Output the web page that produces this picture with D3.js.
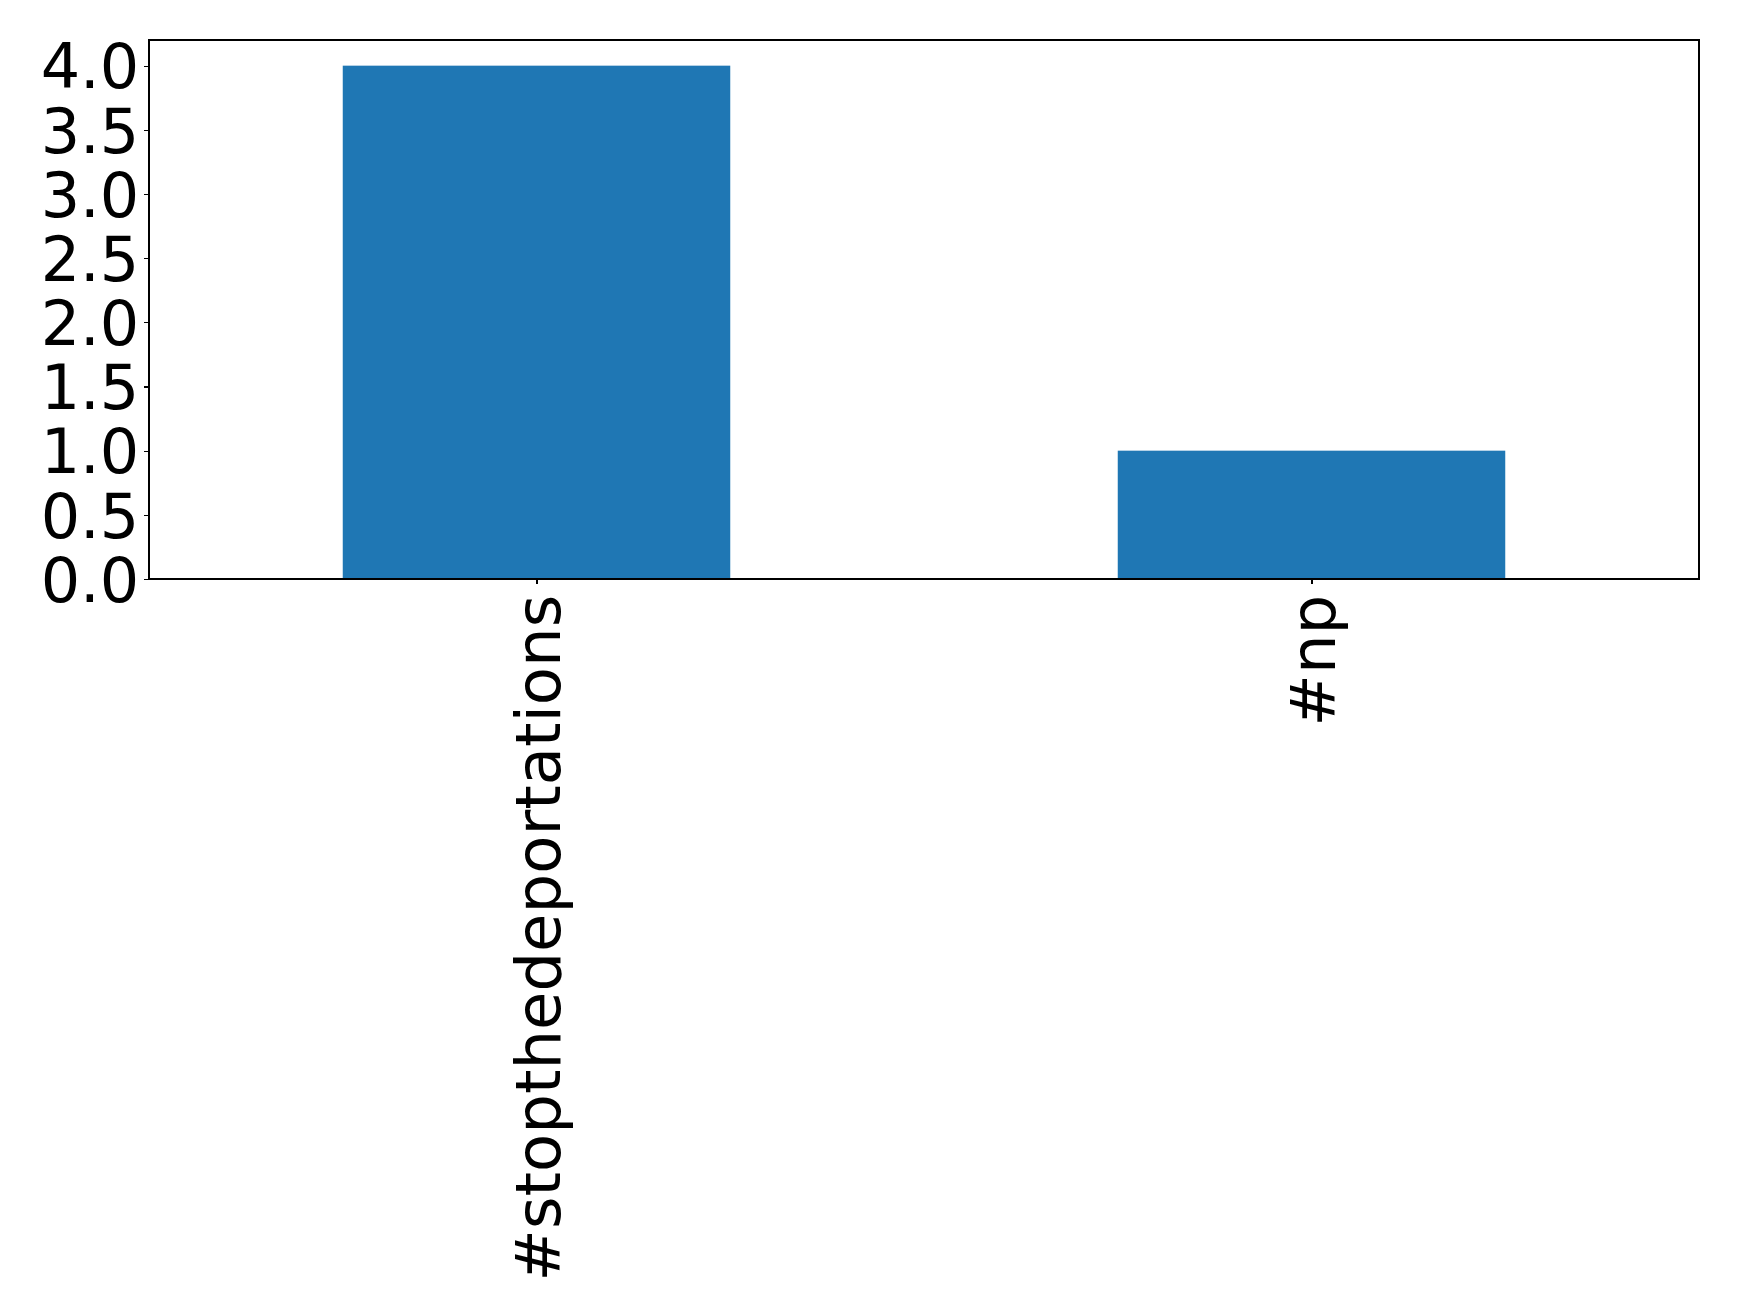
<!DOCTYPE html>
<html><head><meta charset="utf-8">
<script src="https://cdn.jsdelivr.net/npm/d3@7"></script>
<style>body{margin:0;background:#fff}svg{display:block}</style>
</head><body>
<script>
const categories = ["#stopthedeportations", "#np"];
const values = [4, 1];
const yTicks = [0, 0.5, 1.0, 1.5, 2.0, 2.5, 3.0, 3.5, 4.0];

const W = 1739, H = 1315;
const m = {left: 149, top: 40, right: 1699, bottom: 579};
const svg = d3.select("body").append("svg").attr("width", W).attr("height", H);

const x = d3.scaleLinear().domain([-0.5, categories.length - 0.5]).range([m.left, m.right]);
const y = d3.scaleLinear().domain([0, 4.2]).range([m.bottom, m.top]);
const barW = 0.5;

svg.append("g").selectAll("rect").data(values).join("rect")
  .attr("x", (d, i) => x(i - barW / 2))
  .attr("width", (d, i) => x(i + barW / 2) - x(i - barW / 2))
  .attr("y", d => y(d))
  .attr("height", d => y(0) - y(d))
  .attr("fill", "#1f77b4");

const font = "'DejaVu Sans', sans-serif";
const fs = 62;
const tickLen = 4.86, pad = 4.86;

const yAxis = d3.axisLeft(y).tickValues(yTicks).tickFormat(d3.format(".1f"))
  .tickSize(tickLen).tickPadding(pad);
const gy = svg.append("g").attr("transform", `translate(${m.left},0)`).call(yAxis);
gy.select(".domain").remove();
gy.selectAll("line").attr("stroke", "#000").attr("stroke-width", 1.1).attr("shape-rendering", "crispEdges");
gy.selectAll("text").attr("font-family", font).attr("font-size", fs).attr("fill", "#000").attr("dy", "0.36em");

const xAxis = d3.axisBottom(x).tickValues(d3.range(categories.length)).tickFormat(i => categories[i])
  .tickSize(tickLen).tickPadding(pad);
const gx = svg.append("g").attr("transform", `translate(0,${m.bottom})`).call(xAxis);
gx.select(".domain").remove();
gx.selectAll("line").attr("stroke", "#000").attr("stroke-width", 1.1).attr("shape-rendering", "crispEdges");
gx.selectAll("text").attr("font-family", font).attr("font-size", 62.5).attr("fill", "#000")
  .attr("transform", "rotate(-90)")
  .attr("text-anchor", "end")
  .attr("x", -(tickLen + pad + 6))
  .attr("y", 0)
  .attr("dy", "0.36em");

svg.append("rect").attr("x", m.left).attr("y", m.top)
  .attr("width", m.right - m.left).attr("height", m.bottom - m.top)
  .attr("fill", "none").attr("stroke", "#000").attr("stroke-width", 1.1)
  .attr("shape-rendering", "crispEdges");
</script>
</body></html>
